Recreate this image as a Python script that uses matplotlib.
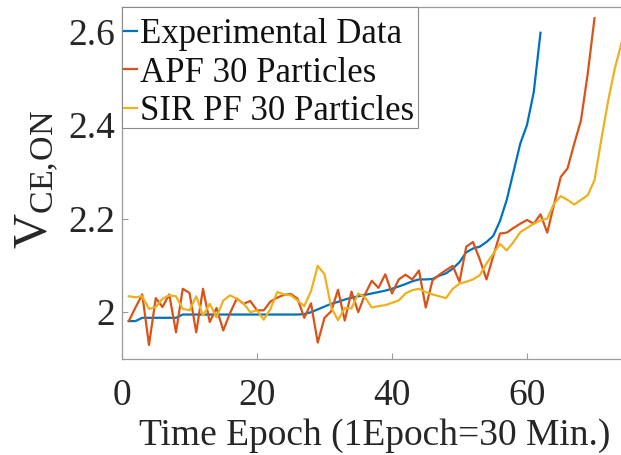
import matplotlib
matplotlib.use("Agg")
import matplotlib.pyplot as plt
from matplotlib.patches import Rectangle
import numpy as np

plt.rcParams['font.family'] = ['Liberation Serif', 'DejaVu Serif']
plt.rcParams['mathtext.fontset'] = 'custom'
plt.rcParams['mathtext.rm'] = 'Liberation Serif'
plt.rcParams['mathtext.default'] = 'regular'

# ---------------- data ----------------
exp_data = [1.981, 1.981, 1.988, 1.988, 1.988, 1.988, 1.988, 1.988, 1.995, 1.995,
            1.995, 1.995, 1.995, 1.995, 1.995, 1.995, 1.995, 1.995, 1.995, 1.995,
            1.995, 1.995, 1.995, 1.995, 1.995, 1.995, 1.996, 2.000, 2.006, 2.012,
            2.018, 2.022, 2.027, 2.031, 2.034, 2.037, 2.040, 2.043, 2.046, 2.050,
            2.055, 2.060, 2.066, 2.070, 2.070, 2.071, 2.078, 2.083, 2.093, 2.107,
            2.128, 2.136, 2.140, 2.150, 2.163, 2.195, 2.240, 2.300, 2.360, 2.400,
            2.470, 2.597]

apf_30 = [1.981, 2.010, 2.038, 1.930, 2.030, 2.011, 2.038, 1.957, 2.050, 2.041,
          1.957, 2.050, 1.979, 2.009, 1.961, 1.998, 2.029, 2.018, 2.024, 2.004,
          2.004, 2.023, 2.031, 2.037, 2.039, 2.029, 1.988, 2.019, 1.935, 1.988,
          2.002, 2.048, 1.982, 2.044, 2.000, 2.038, 2.067, 2.052, 2.081, 2.040,
          2.070, 2.080, 2.070, 2.089, 2.010, 2.068, 2.080, 2.090, 2.099, 2.065,
          2.140, 2.150, 2.113, 2.070, 2.120, 2.168, 2.170, 2.180, 2.189, 2.197,
          2.189, 2.209, 2.170, 2.230, 2.289, 2.307, 2.360, 2.410, 2.510, 2.628]

sir_pf_30 = [2.034, 2.032, 2.034, 2.007, 2.011, 2.029, 2.036, 2.034, 2.007, 2.004,
             2.034, 1.993, 2.018, 1.989, 2.025, 2.036, 2.029, 2.019, 2.000, 2.004,
             1.984, 2.007, 2.043, 2.038, 2.036, 2.025, 2.013, 2.045, 2.099, 2.081,
             2.010, 1.983, 2.009, 2.008, 2.040, 2.032, 2.010, 2.013, 2.015, 2.020,
             2.025, 2.040, 2.047, 2.050, 2.043, 2.038, 2.034, 2.030, 2.050, 2.061,
             2.065, 2.070, 2.079, 2.104, 2.125, 2.146, 2.132, 2.150, 2.171, 2.180,
             2.189, 2.196, 2.200, 2.232, 2.248, 2.240, 2.230, 2.240, 2.250, 2.282,
             2.368, 2.450, 2.520, 2.575, 2.630]

labels = ['Experimental Data', 'APF 30 Particles', 'SIR PF 30 Particles']
colors = ['#0072BD', '#D95319', '#EDB120']
x_ticks = [0, 20, 40, 60]
y_ticks = [2.0, 2.2, 2.4, 2.6]
y_tick_labels = ['2', '2.2', '2.4', '2.6']
x_label = 'Time Epoch (1Epoch=30 Min.)'
y_label = r'$V_{CE,\!ON}$'

# ---------------- figure ----------------
W, H = 621, 455
fig = plt.figure(figsize=(W / 100, H / 100), dpi=100)
left_px, right_px, top_px, bottom_px = 122, 628.25, 7, 359
ax_w, ax_h = right_px - left_px, bottom_px - top_px
ax = fig.add_axes([left_px / W, 1 - bottom_px / H, ax_w / W, ax_h / H])

series = [exp_data, apf_30, sir_pf_30]
for vals, lab, c in zip(series, labels, colors):
    xs = np.arange(1, len(vals) + 1)
    ax.plot(xs, vals, color=c, lw=1.6, label=lab)

ax.set_xlim(0, 75)
ax.set_ylim(1.9, 2.652)
ax.set_xticks(x_ticks)
ax.set_xticklabels([str(t) for t in x_ticks])
ax.set_yticks(y_ticks)
ax.set_yticklabels(y_tick_labels)

spine_c = '#9a9a9a'
for s in ax.spines.values():
    s.set_color(spine_c)
    s.set_linewidth(0.9)
ax.tick_params(direction='in', length=4, width=0.8, color=spine_c,
               labelsize=27, labelcolor='#262626')
ax.tick_params(axis='x', pad=14)
ax.tick_params(axis='y', pad=5)

ax.set_xlabel(x_label, fontsize=27, color='#262626', labelpad=4)
ax.set_ylabel(y_label, fontsize=35, color='#262626')
ax.yaxis.set_label_coords(-0.122, 0.51)

# legend box (MATLAB-style padding), then legend entries on top
box_l, box_r, box_t, box_b = 122, 418, 7, 128
frame = Rectangle((box_l / W, 1 - box_b / H), (box_r - box_l) / W,
                  (box_b - box_t) / H, transform=fig.transFigure,
                  facecolor='white', edgecolor='#8a8a8a', linewidth=0.8,
                  zorder=4, clip_on=False)
ax.add_patch(frame)

leg = ax.legend(loc='upper left', fontsize=25, handlelength=0.37,
                handletextpad=0.08, borderpad=0.0, labelspacing=0.16,
                borderaxespad=0.0, frameon=False,
                bbox_to_anchor=(2 / ax_w, (bottom_px - 18) / ax_h))
leg.set_zorder(5)
for t in leg.get_texts():
    t.set_color('#111111')

fig.savefig('out.png', dpi=100)
